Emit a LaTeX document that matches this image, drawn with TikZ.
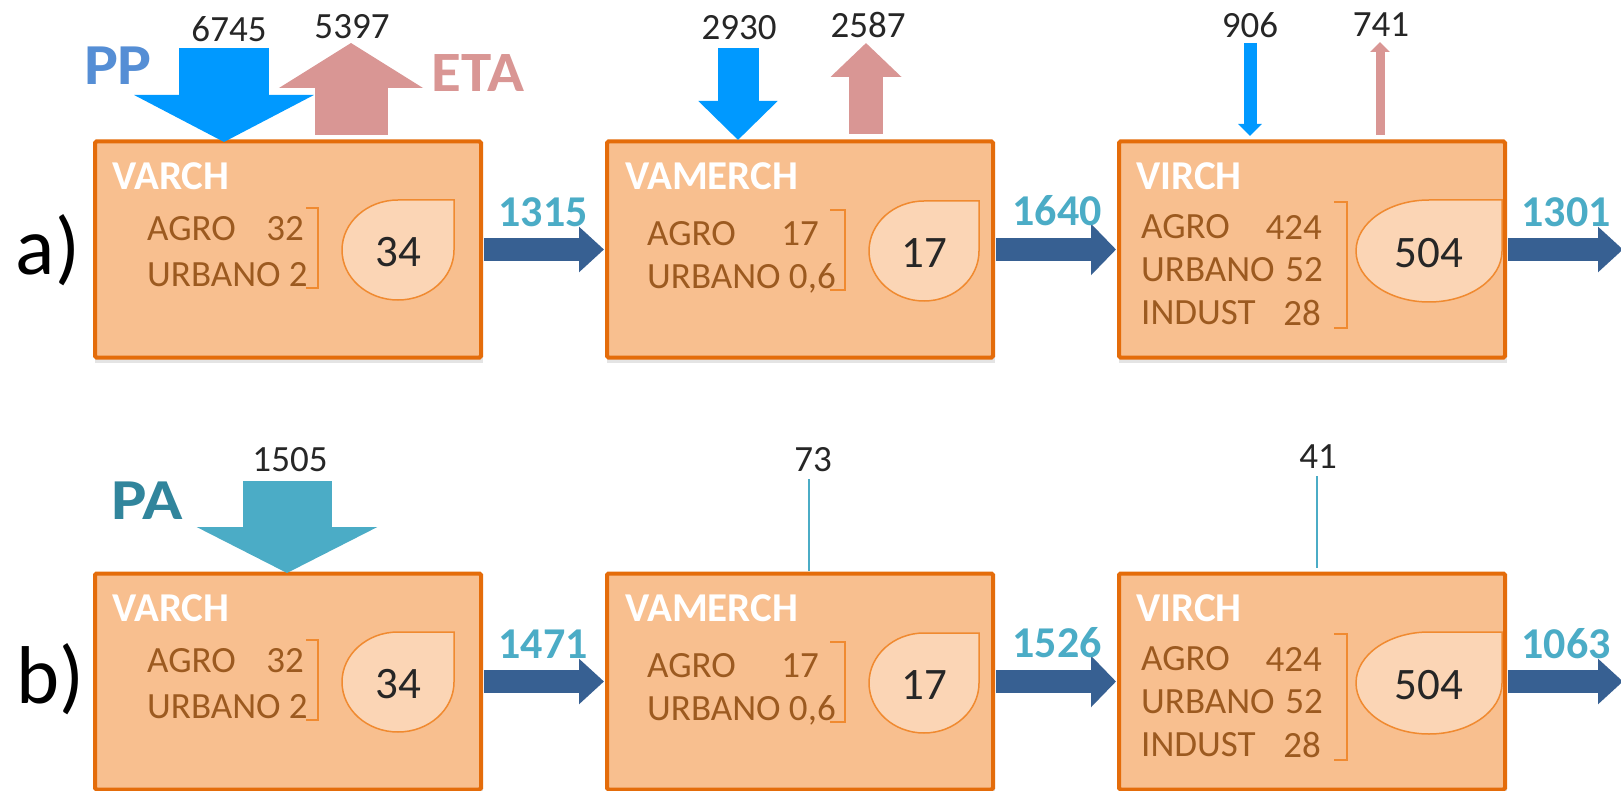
\documentclass[tikz,border=0pt]{standalone}
\usepackage{fontspec}
\setmainfont{Carlito}
\usetikzlibrary{arrows.meta}
\definecolor{boxfill}{HTML}{F8BF8F}
\definecolor{boxline}{HTML}{E46C0A}
\definecolor{tearfill}{HTML}{FBD5B5}
\definecolor{tearline}{HTML}{F08A30}
\definecolor{brownish}{HTML}{9C5A20}
\definecolor{ppblue}{HTML}{0099FF}
\definecolor{etapink}{HTML}{D99694}
\definecolor{pptext}{HTML}{558ED5}
\definecolor{flowblue}{HTML}{376092}
\definecolor{flowtext}{HTML}{4BACC6}
\definecolor{patext}{HTML}{31859C}
\newcommand{\fs}[1]{\fontsize{#1}{#1}\selectfont}
\tikzset{
  bigbox/.style={draw=boxline,fill=boxfill,line width=4pt,rounded corners=1.5pt,minimum width=386pt,minimum height=216pt,inner sep=0pt,outer sep=0pt,anchor=north west},
  boxshadow/.style={fill=black!30,opacity=.35,draw=none},
  boxtitle/.style={text=white,font=\fs{41}\bfseries,anchor=west,inner sep=0pt},
  rowtext/.style={text=brownish,font=\fs{37},anchor=west,inner sep=0pt},
  rownum/.style={text=brownish,font=\fs{37},anchor=east,inner sep=0pt},
  brack/.style={draw=tearline,line width=2.5pt},
  tear/.style={draw=tearline,fill=tearfill,line width=1.5pt},
  tearnum/.style={text=black!85,font=\fs{45},inner sep=0pt},
  value/.style={text=black!85,font=\fs{37},inner sep=0pt},
  flowlabel/.style={text=flowtext,font=\fs{44}\bfseries,inner sep=0pt},
  bigletter/.style={text=black,font=\fs{82},inner sep=0pt},
  hflow/.style={draw=flowblue,line width=23pt,-{Triangle[width=#1pt,length=25pt,fill=flowblue]}},
  vflow/.style n args={4}{draw=#1,line width=#2pt,-{Triangle[width=#3pt,length=#4pt,fill=#1]}},
  thinflow/.style={draw=flowtext,line width=2pt},
  heavy/.style={font=\fs{#1}\bfseries,inner sep=0pt}
}
% \teardrop{name}{cx}{cy}{rx}{ry}{number}
\newcommand{\teardrop}[6]{%
  \begin{scope}[shift={(#2,#3)},xscale=#4,yscale=#5]
    \draw[tear] (1,-1) -- (0,-1) .. controls (-.552,-1) and (-1,-.552) .. (-1,0)
      .. controls (-1,.552) and (-.552,1) .. (0,1)
      .. controls (.552,1) and (1,.552) .. (1,0) -- cycle;
  \end{scope}
  \node[tearnum] (#1) at (#2,#3+2) {#6};}
% \bracket{x0}{x1}{y0}{y1}
\newcommand{\bracket}[4]{\draw[brack] (#1,#3) -- (#2,#3) -- (#2,#4) -- (#1,#4);}
% one row of three boxes; #1 = name prefix, #2 = vertical offset
\newcommand{\boxrow}[2]{%
  \begin{scope}[shift={(0,#2)}]
    \fill[boxshadow] (95,146) rectangle (483,363);
    \fill[boxshadow] (607,146) rectangle (995,363);
    \fill[boxshadow] (1119,146) rectangle (1507,363);
    \node[bigbox] (#1A) at (95,141.5) {};
    \node[bigbox] (#1B) at (607,141.5) {};
    \node[bigbox] (#1C) at (1119,141.5) {};
    \node[boxtitle] (#1At) at (112,176) {VARCH};
    \node[boxtitle] (#1Bt) at (625,176) {VAMERCH};
    \node[boxtitle] (#1Ct) at (1136,176) {VIRCH};
    \node[rowtext] (#1Aa) at (147,229) {AGRO};
    \node[rownum] (#1Aan) at (304,229) {32};
    \node[rowtext] (#1Au) at (147,275) {URBANO 2};
    \bracket{306}{318}{208}{288}
    \teardrop{#1An}{398}{250}{56}{50}{34}
    \node[rowtext] (#1Ba) at (647,234) {AGRO};
    \node[rownum] (#1Ban) at (819,234) {17};
    \node[rowtext] (#1Bu) at (647,278) {URBANO 0,6};
    \bracket{830}{845}{210}{290}
    \teardrop{#1Bn}{924}{251}{55}{50}{17}
    \node[rowtext] (#1Ca) at (1141,227) {AGRO};
    \node[rownum] (#1Can) at (1322,227) {424};
    \node[rowtext] (#1Cu) at (1141,270) {URBANO};
    \node[rownum] (#1Cun) at (1323,270) {52};
    \node[rowtext] (#1Ci) at (1141,313) {INDUST};
    \node[rownum] (#1Cin) at (1321,313) {28};
    \bracket{1334}{1347}{202}{328}
    \teardrop{#1Cn}{1429}{251}{73}{51}{504}
    \coordinate (#1end) at (1623,249.5);
    \draw[hflow=44] ([xshift=3pt]#1A.east) -- ([xshift=-3pt]#1B.west);
    \draw[hflow=50] ([xshift=3pt]#1B.east) -- ([xshift=-3pt]#1C.west);
    \draw[hflow=44] ([xshift=3pt]#1C.east) -- (#1end);
  \end{scope}}
\begin{document}
\begin{tikzpicture}[x=1pt,y=-1pt]
\useasboundingbox (0,0) rectangle (1621,791);
\fill[white] (0,0) rectangle (1621,791);
\begin{scope}
\clip (0,0) rectangle (1621,791);
\boxrow{p}{0}
\boxrow{q}{432}
\end{scope}
% labels of the rows
\node[bigletter] (la) at (48,250) {a)};
\node[bigletter] (lb) at (50,679) {b)};
% row a: vertical flows
\coordinate (ppAs) at (224,48);
\coordinate (ppAe) at (224,142);
\coordinate (etAs) at (351,135);
\coordinate (etAe) at (351,43);
\draw[vflow={ppblue}{90}{178}{47}] (ppAs) -- (ppAe);
\draw[vflow={etapink}{73}{142}{45}] (etAs) -- (etAe);
\coordinate (ppBs) at (738,48);
\coordinate (ppBe) at (738,140);
\coordinate (etBs) at (866,134);
\coordinate (etBe) at (866,43);
\draw[vflow={ppblue}{41}{77}{39}] (ppBs) -- (ppBe);
\draw[vflow={etapink}{34}{69}{34}] (etBs) -- (etBe);
\coordinate (ppCs) at (1250,43);
\coordinate (ppCe) at (1250,136);
\coordinate (etCs) at (1380,135);
\coordinate (etCe) at (1380,42);
\draw[vflow={ppblue}{13}{23}{12}] (ppCs) -- (ppCe);
\draw[vflow={etapink}{9}{19}{10}] (etCs) -- (etCe);
\node[value] (v1) at (229,29) {6745};
\node[value] (v2) at (352,27) {5397};
\node[value] (v3) at (739,28) {2930};
\node[value] (v4) at (868,25) {2587};
\node[value] (v5) at (1250,25) {906};
\node[value] (v6) at (1381,25) {741};
\node[heavy=58,text=pptext,xscale=1.1] (pp) at (118,66) {PP};
\node[heavy=57,text=etapink,xscale=1.07] (eta) at (478,73) {ETA};
\node[flowlabel] (f1) at (543,212) {1315};
\node[flowlabel] (f2) at (1057,211) {1640};
\node[flowlabel] (f3) at (1566,212) {1301};
% row b: vertical flows
\coordinate (paAs) at (287,481);
\coordinate (paAe) at (287,573);
\draw[vflow={flowtext}{89}{179}{46}] (paAs) -- (paAe);
\coordinate (paBs) at (809,479);
\coordinate (paBe) at (809,571);
\coordinate (paCs) at (1317,476);
\coordinate (paCe) at (1317,568);
\draw[thinflow] (paBs) -- (paBe);
\draw[thinflow] (paCs) -- (paCe);
\node[value] (w1) at (290,460) {1505};
\node[value] (w2) at (813,460) {73};
\node[value] (w3) at (1318,457) {41};
\node[heavy=58,text=patext,xscale=1.15] (pa) at (147,501) {PA};
\node[flowlabel] (g1) at (543,644) {1471};
\node[flowlabel] (g2) at (1057,643) {1526};
\node[flowlabel] (g3) at (1566,644) {1063};
\end{tikzpicture}
\end{document}
